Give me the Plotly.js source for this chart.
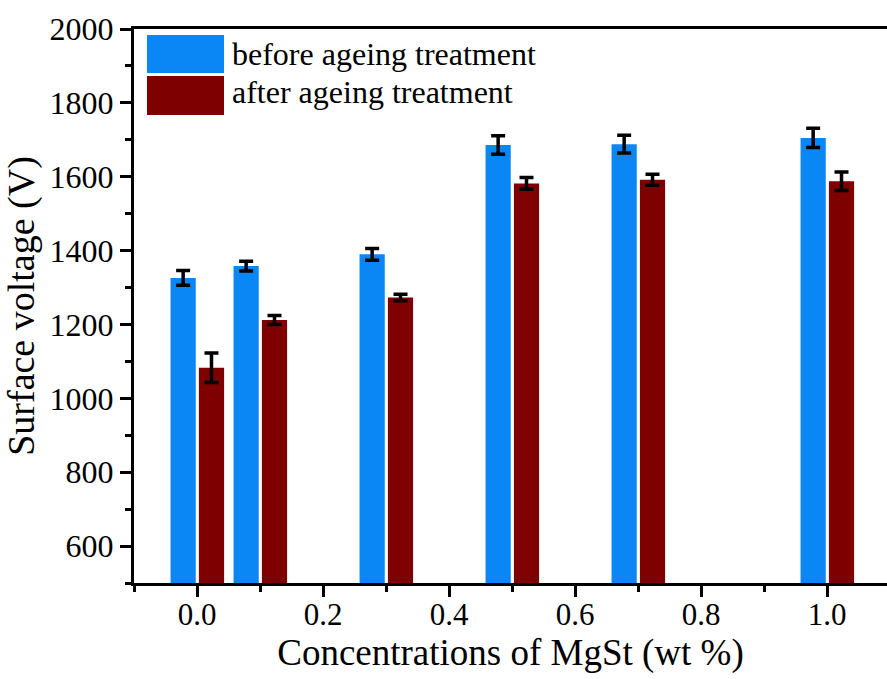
<!DOCTYPE html>
<html>
<head>
<meta charset="utf-8">
<script src="https://cdn.plot.ly/plotly-3.0.1.min.js"></script>
<style>
html,body{margin:0;padding:0;background:#fff;overflow:hidden;}
#chart{width:887px;height:679px;}
</style>
</head>
<body>
<div id="chart"></div>
<script>
// ---- data ----
const concentrations = [0.0, 0.1, 0.3, 0.5, 0.7, 1.0];
const beforeVoltage = [1326, 1358, 1390, 1686, 1688, 1705];
const beforeError   = [20, 13, 16, 25, 24, 26];
const afterVoltage  = [1083, 1212, 1273, 1582, 1592, 1588];
const afterError    = [40, 12, 9, 16, 15, 25];
const seriesNames = ["before ageing treatment", "after ageing treatment"];
const xTickVals = [0.0, 0.2, 0.4, 0.6, 0.8, 1.0];
const xTickText = ["0.0", "0.2", "0.4", "0.6", "0.8", "1.0"];

// ---- style ----
const FONT = "Liberation Serif, Times New Roman, serif";
const BLUE = "#0A86F5";
const RED = "#7F0000";
const W = 887, H = 679;
const M = {l: 134, r: 0, t: 29, b: 96};
const plotW = W - M.l - M.r, plotH = H - M.t - M.b;
const px2x = p => (p - M.l) / plotW;
const py2y = p => (H - M.b - p) / plotH;

const errStyle = {type: "data", visible: true, color: "#000", thickness: 3.5, width: 7};

const traces = [
  {
    type: "bar", name: seriesNames[0], x: concentrations, y: beforeVoltage,
    offset: -0.042, width: 0.04,
    marker: {color: BLUE, line: {width: 0}},
    error_y: Object.assign({array: beforeError}, errStyle),
    showlegend: false
  },
  {
    type: "bar", name: seriesNames[1], x: concentrations, y: afterVoltage,
    offset: 0.003, width: 0.04,
    marker: {color: RED, line: {width: 0}},
    error_y: Object.assign({array: afterError}, errStyle),
    showlegend: false
  }
];

const legendShapes = [
  {type: "rect", xref: "paper", yref: "paper", x0: px2x(147), x1: px2x(224), y0: py2y(73), y1: py2y(35),
   fillcolor: BLUE, line: {width: 0}},
  {type: "rect", xref: "paper", yref: "paper", x0: px2x(147), x1: px2x(224), y0: py2y(115), y1: py2y(76),
   fillcolor: RED, line: {width: 0}}
];
const legendAnn = [
  {xref: "paper", yref: "paper", x: px2x(230), y: py2y(54), xanchor: "left", yanchor: "middle",
   text: seriesNames[0], showarrow: false, font: {family: FONT, size: 32, color: "#000"}},
  {xref: "paper", yref: "paper", x: px2x(230), y: py2y(92), xanchor: "left", yanchor: "middle",
   text: seriesNames[1], showarrow: false, font: {family: FONT, size: 32, color: "#000"}}
];

const layout = {
  width: W, height: H,
  margin: M,
  paper_bgcolor: "#fff", plot_bgcolor: "#fff",
  barmode: "overlay",
  font: {family: FONT, color: "#000", size: 32},
  xaxis: {
    range: [-0.1, 1.0952],
    tickvals: xTickVals, ticktext: xTickText,
    ticks: "outside", ticklen: 11, tickwidth: 3, tickcolor: "#000",
    ticklabelstandoff: -9,
    minor: {ticks: "outside", ticklen: 6, tickwidth: 3, tickcolor: "#000", dtick: 0.1, tick0: 0, showgrid: false},
    showline: true, linewidth: 3, linecolor: "#000", mirror: true,
    showgrid: false, zeroline: false,
    tickfont: {family: FONT, size: 31, color: "#000"},
    title: {text: "Concentrations of MgSt (wt %)", font: {family: FONT, size: 37, color: "#000"}, standoff: 6}
  },
  yaxis: {
    range: [500, 2000],
    tickmode: "linear", tick0: 600, dtick: 200,
    ticks: "outside", ticklen: 11, tickwidth: 3, tickcolor: "#000",
    minor: {ticks: "outside", ticklen: 6, tickwidth: 3, tickcolor: "#000", dtick: 100, tick0: 500, showgrid: false},
    showline: true, linewidth: 3, linecolor: "#000",
    showgrid: false, zeroline: false,
    tickfont: {family: FONT, size: 32, color: "#000"},
    title: {text: "Surface voltage (V)", font: {family: FONT, size: 38, color: "#000"}, standoff: 4}
  },
  shapes: legendShapes,
  annotations: legendAnn
};

Plotly.newPlot("chart", traces, layout, {displayModeBar: false, staticPlot: true});
</script>
</body>
</html>
